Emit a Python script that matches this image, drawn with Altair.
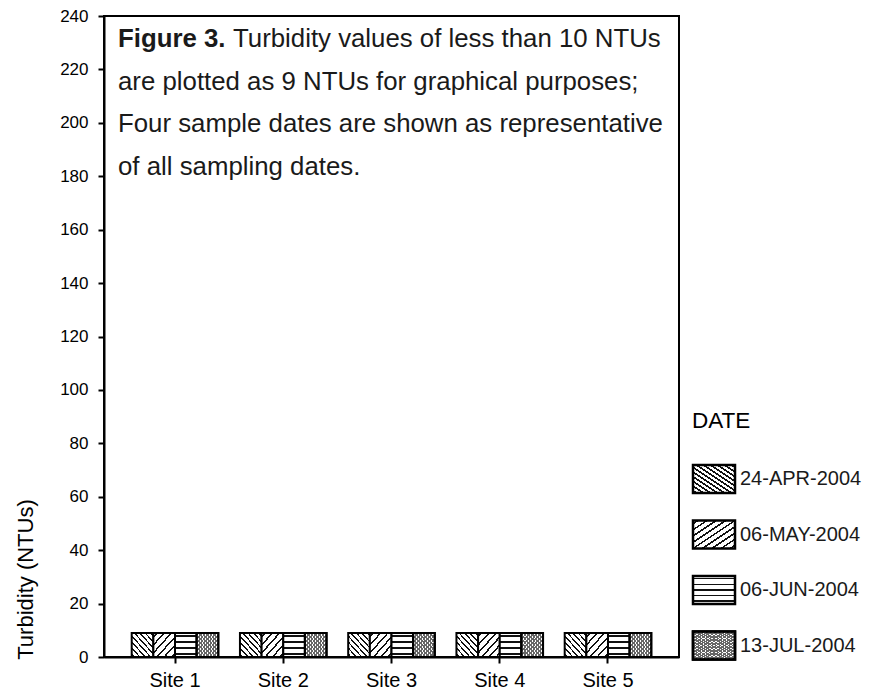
import altair as alt
import pandas as pd

# ---------------- data ----------------
SITES = ["Site 1", "Site 2", "Site 3", "Site 4", "Site 5"]
DATES = ["24-APR-2004", "06-MAY-2004", "06-JUN-2004", "13-JUL-2004"]
TURB_24APR = [9, 9, 9, 9, 9]
TURB_06MAY = [9, 9, 9, 9, 9]
TURB_06JUN = [9, 9, 9, 9, 9]
TURB_13JUL = [9, 9, 9, 9, 9]
Y_TICKS = list(range(0, 241, 20))

TITLE_BOLD = "Figure 3."
TITLE_LINES = [
    "Turbidity values of less than 10 NTUs",
    "are plotted as 9 NTUs for graphical purposes;",
    "Four sample dates are shown as representative",
    "of all sampling dates.",
]

rows = []
for d, vals in zip(DATES, [TURB_24APR, TURB_06MAY, TURB_06JUN, TURB_13JUL]):
    for s, v in zip(SITES, vals):
        rows.append({"site": s, "date": d, "turbidity": v})
df = pd.DataFrame(rows)

FONT = "Liberation Sans"
INK = "black"
CLEAR = "rgba(255,255,255,0)"


def stripes(n, w, x1, y1, x2, y2, line="#111111", bg="white"):
    stops = [alt.GradientStop(color=bg, offset=0)]
    for i in range(n):
        c = (i + 0.5) / n
        a, b = max(c - w / 2, 0), min(c + w / 2, 1)
        stops += [
            alt.GradientStop(color=bg, offset=a),
            alt.GradientStop(color=line, offset=a),
            alt.GradientStop(color=line, offset=b),
            alt.GradientStop(color=bg, offset=b),
        ]
    stops.append(alt.GradientStop(color=bg, offset=1))
    return alt.LinearGradient(gradient="linear", stops=stops, x1=x1, y1=y1, x2=x2, y2=y2)


BAR_FILLS = {
    DATES[0]: [stripes(8, 0.04, 0, 1, 1, 0)],
    DATES[1]: [stripes(6, 0.045, 0, 0, 1, 1)],
    DATES[2]: [stripes(4, 0.05, 0, 0, 0, 1)],
    DATES[3]: [
        stripes(12, 0.04, 0, 0, 1, 1, line="#666666"),
        stripes(12, 0.04, 0, 1, 1, 0, line="#666666", bg=CLEAR),
    ],
}
LEG_FILLS = {
    DATES[0]: [stripes(12, 0.03, 0, 1, 1, 0)],
    DATES[1]: [stripes(9, 0.035, 0, 0, 1, 1)],
    DATES[2]: [stripes(5, 0.05, 0, 0, 0, 1)],
    DATES[3]: [
        stripes(20, 0.025, 0, 0, 1, 1, line="#666666"),
        stripes(20, 0.025, 0, 1, 1, 0, line="#666666", bg=CLEAR),
    ],
}

base = alt.Chart(df).encode(
    x=alt.X(
        "site:N",
        sort=SITES,
        title=None,
        scale=alt.Scale(paddingInner=0.2, paddingOuter=0.256),
        axis=alt.Axis(
            labelAngle=0, labelFont=FONT, labelFontSize=20, labelColor=INK,
            labelPadding=7, tickSize=6, tickWidth=2, tickColor=INK,
            domainColor=INK, domainWidth=2,
        ),
    ),
    xOffset=alt.XOffset(
        "date:N", scale=alt.Scale(domain=DATES, paddingInner=0, paddingOuter=0)
    ),
    y=alt.Y(
        "turbidity:Q",
        title="Turbidity (NTUs)",
        scale=alt.Scale(domain=[0, 240], nice=False),
        axis=alt.Axis(
            values=Y_TICKS, grid=False, labelFont=FONT, labelFontSize=17,
            labelColor=INK, labelPadding=10, tickSize=6, tickWidth=2,
            tickColor=INK, domainColor=INK, domainWidth=2,
            titleFont=FONT, titleFontSize=22, titleFontWeight="normal",
            titleColor=INK, titleAngle=270, titleAlign="center",
            titleBaseline="middle", titleX=-79, titleY=563,
        ),
    ),
)

layers = []
for d in DATES:
    for f in BAR_FILLS[d]:
        layers.append(
            base.transform_filter(alt.datum.date == d).mark_bar(
                fill=f, stroke=INK, strokeWidth=2
            )
        )

# annotation text (figure caption inside the plot)
TXT_SIZE = 25.8
BASELINES = [31, 73.5, 116, 158.5]
layers.append(
    alt.Chart(pd.DataFrame({"t": [TITLE_BOLD]})).mark_text(
        font=FONT, fontSize=TXT_SIZE, fontWeight="bold", align="left",
        baseline="alphabetic", color="#1a1a1a",
    ).encode(text="t:N", x=alt.value(14), y=alt.value(BASELINES[0]))
)
for i, line in enumerate(TITLE_LINES):
    layers.append(
        alt.Chart(pd.DataFrame({"t": [line]})).mark_text(
            font=FONT, fontSize=TXT_SIZE, align="left", baseline="alphabetic",
            color="#1a1a1a",
        ).encode(text="t:N", x=alt.value(129 if i == 0 else 14),
                 y=alt.value(BASELINES[i]))
    )

# custom legend
LEG_X0, LEG_X1 = 589, 631
LEG_TOP, LEG_STEP, LEG_H = 449, 55.5, 28
layers.append(
    alt.Chart(pd.DataFrame({"t": ["DATE"]})).mark_text(
        font=FONT, fontSize=22.5, align="left", baseline="middle", color=INK
    ).encode(text="t:N", x=alt.value(588), y=alt.value(405))
)
for i, d in enumerate(DATES):
    y0 = LEG_TOP + i * LEG_STEP
    for f in LEG_FILLS[d]:
        layers.append(
            alt.Chart(pd.DataFrame({"date": [d]})).mark_rect(
                fill=f, stroke=INK, strokeWidth=2.5
            ).encode(x=alt.value(LEG_X0), x2=alt.value(LEG_X1),
                     y=alt.value(y0), y2=alt.value(y0 + LEG_H))
        )
    layers.append(
        alt.Chart(pd.DataFrame({"date": [d]})).mark_text(
            font=FONT, fontSize=20, align="left", baseline="middle", color="#1a1a1a"
        ).encode(text="date:N", x=alt.value(LEG_X1 + 5), y=alt.value(y0 + LEG_H / 2))
    )

chart = (
    alt.layer(*layers)
    .properties(
        width=575,
        height=641,
        autosize=alt.AutoSizeParams(type="none"),
        padding={"left": 96, "top": 8, "right": 190, "bottom": 36},
        background="white",
    )
    .configure_view(stroke=INK, strokeWidth=2)
)

chart.save("out.html", embed_options={"renderer": "svg", "actions": False})
